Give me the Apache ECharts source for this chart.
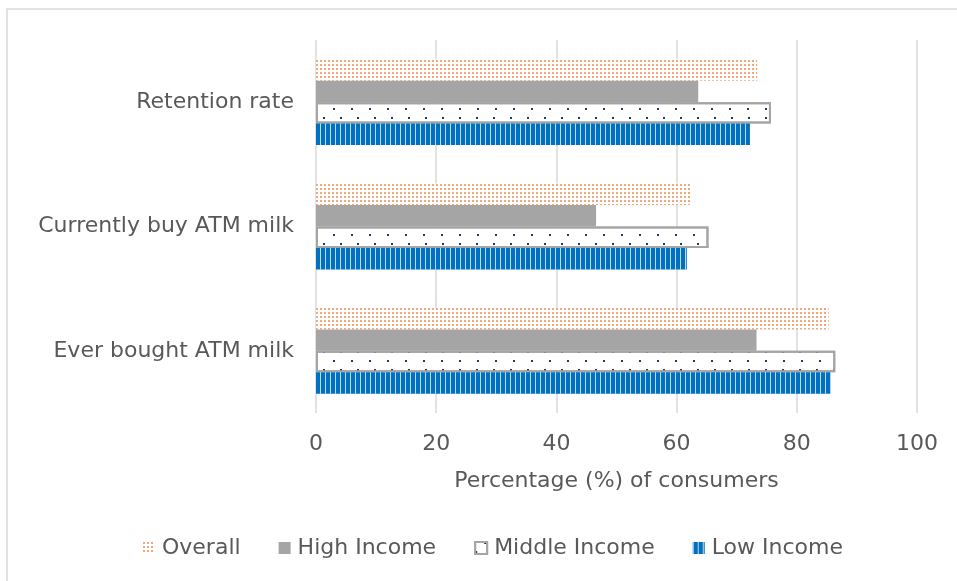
<!DOCTYPE html>
<html>
<head>
<meta charset="utf-8">
<script src="https://cdn.jsdelivr.net/npm/echarts@6/dist/echarts.min.js"></script>
<style>
  html, body { margin: 0; padding: 0; background: #ffffff; }
  #chart { width: 957px; height: 581px; }
</style>
</head>
<body>
<div id="chart"></div>
<script>
// Survey questions, listed bottom to top as they appear on the axis
const categories = ['Ever bought ATM milk', 'Currently buy ATM milk', 'Retention rate'];

// Share of consumers (%) per income group, same order as categories
const overall = [85.3, 62.5, 73.4];
const highIncome = [73.3, 46.6, 63.6];
const middleIncome = [86.4, 65.3, 75.7];
const lowIncome = [85.6, 61.7, 72.2];

const xTicks = [0, 20, 40, 60, 80, 100];
const legendOrder = ['Overall', 'High Income', 'Middle Income', 'Low Income'];

const textColor = '#595959';
const font = 'DejaVu Sans';
const fontSize = 22;

const chart = echarts.init(document.getElementById('chart'), null, { renderer: 'canvas' });

chart.setOption({
  animation: false,
  backgroundColor: '#ffffff',
  graphic: [{
    type: 'rect',
    shape: { x: 7, y: 9, width: 1000, height: 700 },
    style: { fill: 'none', stroke: '#d9d9d9', lineWidth: 1.5 },
    silent: true,
    z: -10
  }],
  grid: { left: 316, right: 40, top: 40, bottom: 168 },
  legend: {
    data: legendOrder,
    bottom: 17,
    left: 138,
    itemWidth: 12,
    itemHeight: 12,
    itemGap: 38,
    icon: 'rect',
    textStyle: { color: textColor, fontSize: fontSize, fontFamily: font, padding: [0, 0, 0, 2] }
  },
  xAxis: {
    type: 'value',
    min: xTicks[0],
    max: xTicks[xTicks.length - 1],
    interval: xTicks[1] - xTicks[0],
    name: 'Percentage (%) of consumers',
    nameLocation: 'middle',
    nameGap: 57,
    nameTextStyle: { color: textColor, fontSize: fontSize, fontFamily: font },
    axisLine: { show: false },
    axisTick: { show: false },
    axisLabel: { color: textColor, fontSize: fontSize, fontFamily: font, margin: 20 },
    splitLine: { show: true, lineStyle: { color: '#d9d9d9', width: 1.5 } }
  },
  yAxis: {
    type: 'category',
    data: categories,
    axisLine: { show: false },
    axisTick: { show: false },
    axisLabel: { color: textColor, fontSize: fontSize, fontFamily: font, margin: 22 }
  },
  series: [
    {
      name: 'Overall',
      type: 'bar',
      data: overall,
      barGap: '0%',
      barCategoryGap: '31%',
      itemStyle: {
        color: '#ffffff',
        decal: {
          symbol: 'rect',
          symbolSize: 1,
          color: '#f4a878',
          dashArrayX: [2, 1.5],
          dashArrayY: [2, 1.5]
        }
      }
    },
    {
      name: 'High Income',
      type: 'bar',
      data: highIncome,
      barGap: '0%',
      barCategoryGap: '31%',
      itemStyle: { color: '#a5a5a5' }
    },
    {
      name: 'Middle Income',
      type: 'bar',
      data: middleIncome,
      barGap: '0%',
      barCategoryGap: '31%',
      itemStyle: {
        color: '#ffffff',
        borderColor: '#a5a5a5',
        borderWidth: 2,
        decal: {
          symbol: 'rect',
          symbolSize: 1,
          color: '#1f3864',
          dashArrayX: [[2, 15], [0, 8.5, 2, 6.5]],
          dashArrayY: [2, 6.5]
        }
      }
    },
    {
      name: 'Low Income',
      type: 'bar',
      data: lowIncome,
      barGap: '0%',
      barCategoryGap: '31%',
      itemStyle: {
        color: '#0070c0',
        decal: {
          symbol: 'rect',
          symbolSize: 1,
          color: 'rgba(255,255,255,0.75)',
          dashArrayX: [1, 3.3],
          dashArrayY: [8, 0]
        }
      }
    }
  ]
});
</script>
</body>
</html>
